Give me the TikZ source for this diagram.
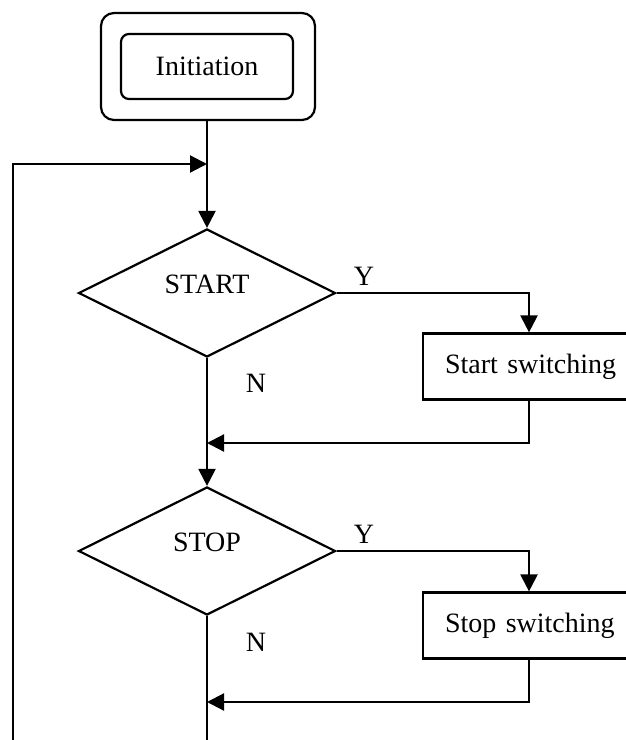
\documentclass[tikz,border=0pt]{standalone}
\usepackage{fontspec}
\setmainfont{Liberation Serif}
\usetikzlibrary{shapes.geometric,arrows.meta,calc}
\begin{document}
\begin{tikzpicture}[x=1pt,y=1pt,
  every node/.style={font=\fontsize{28}{34}\selectfont},
  ln/.style={line width=2.2pt},
  arr/.style={ln,-{Triangle[length=17pt,width=17pt]}},
  dec/.style={draw,ln,diamond,minimum width=257pt,minimum height=128pt,inner sep=0pt,text height=0pt,text depth=0pt},
  proc/.style={draw,ln,rectangle,anchor=west,minimum height=66pt,text width=236pt,align=left,inner xsep=22pt,inner ysep=0pt},
  lbl/.style={inner sep=0pt}]
\useasboundingbox (0,0) rectangle (626,-740);
\clip (0,0) rectangle (626,-740);
% initiation
\node[draw,ln,rounded corners=13pt,minimum width=214pt,minimum height=107pt,inner sep=0pt] (outer) at (208,-66.5) {};
\node[draw,ln,rounded corners=8pt,minimum width=172pt,minimum height=65pt,inner sep=0pt] (init) at (207,-66.5) {Initiation};
% decisions
\node[dec] (start) at (207,-293) {START};
\node[dec] (stop) at (207,-551) {STOP};
% processes
\node[proc] (ss) at (422,-366.5) {Start switching};
\node[proc] (sp) at (422,-625.5) {Stop switching};
% labels
\node[lbl] (y1) at (364,-276) {Y};
\node[lbl] (n1) at (256,-383) {N};
\node[lbl] (y2) at (364,-534) {Y};
\node[lbl] (n2) at (256,-642) {N};
% helper coordinates
\coordinate (jx) at (529,0);
\coordinate (j1) at (207,-164);
\coordinate (j2) at (207,-443);
\coordinate (j3) at (207,-702);
\coordinate (bot) at (207,-745);
\coordinate (lb) at (13,-745);
\coordinate (lt) at (13,-164);
% connectors
\draw[ln] (outer.south -| init.south) -- (j1);
\draw[arr] (j1) -- (start.north);
\draw[arr] (lb) -- (lt) -- (j1);
\draw[arr] (start.east) -| (ss.north -| jx);
\draw[ln] (start.south) -- (j2);
\draw[arr] (ss.south -| jx) |- (j2);
\draw[arr] (j2) -- (stop.north);
\draw[arr] (stop.east) -| (sp.north -| jx);
\draw[ln] (stop.south) -- (bot);
\draw[arr] (sp.south -| jx) |- (j3);
\end{tikzpicture}
\end{document}
